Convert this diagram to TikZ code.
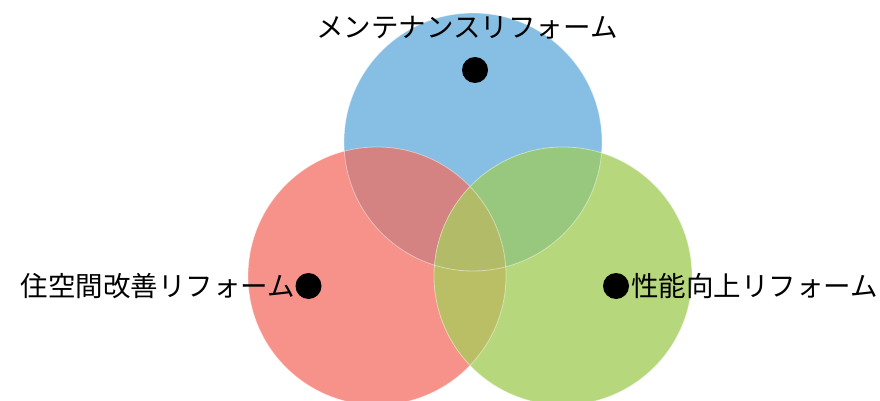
\documentclass[tikz,border=0pt]{standalone}
\usepackage{fontspec}
\newfontfamily\jpfont{Noto Sans CJK JP}
\definecolor{cblue}{HTML}{86BFE3}
\definecolor{cred}{HTML}{F69289}
\definecolor{cgreen}{HTML}{B6D77C}
\definecolor{crb}{HTML}{D48282}
\definecolor{cbg}{HTML}{98C87D}
\definecolor{crg}{HTML}{BABF66}
\definecolor{crgb}{HTML}{B2BC68}
\tikzset{
  lbl/.style={inner sep=0pt, font=\jpfont\fontsize{27.5}{30}\selectfont},
  dotmark/.style={circle, fill=black, minimum size=26pt, inner sep=0pt},
  edge/.style={draw=white, draw opacity=0.45, line width=0.8pt}
}
\begin{document}
\begin{tikzpicture}[x=1pt, y=-1pt]
\useasboundingbox (0,0) rectangle (880,401);
\fill[white] (0,0) rectangle (880,401);
\def\R{129}
\coordinate (cb) at (473,142);
\coordinate (cr) at (377,276);
\coordinate (cg) at (563,276);
% base circles
\fill[cblue] (cb) circle (\R);
\fill[cred] (cr) circle (\R);
\fill[cgreen] (cg) circle (\R);
% pairwise overlaps
\begin{scope}
  \clip (cb) circle (\R);
  \fill[crb] (cr) circle (\R);
\end{scope}
\begin{scope}
  \clip (cb) circle (\R);
  \fill[cbg] (cg) circle (\R);
\end{scope}
\begin{scope}
  \clip (cr) circle (\R);
  \fill[crg] (cg) circle (\R);
\end{scope}
\begin{scope}
  \clip (cr) circle (\R);
  \clip (cg) circle (\R);
  \fill[crgb] (cb) circle (\R);
\end{scope}
% faint edges
\draw[edge] (cb) circle (\R);
\draw[edge] (cr) circle (\R);
\draw[edge] (cg) circle (\R);
% dots
\node[dotmark] (db) at (475,70) {};
\node[dotmark] (dr) at (308.5,286) {};
\node[dotmark] (dg) at (616,286) {};
% labels
\node[lbl, anchor=base] (tb) at (467,37.5) {メンテナンスリフォーム};
\node[lbl, anchor=base east] (tr) at (295,296.5) {住空間改善リフォーム};
\node[lbl, anchor=base west] (tg) at (631,296.5) {性能向上リフォーム};
\end{tikzpicture}
\end{document}
